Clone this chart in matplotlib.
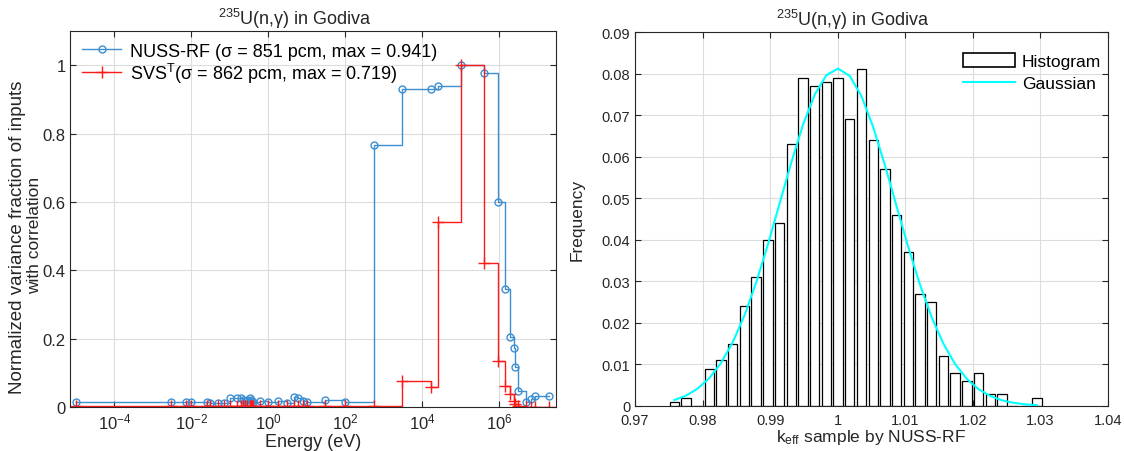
import numpy as np
import matplotlib
matplotlib.use("Agg")
import matplotlib.pyplot as plt
from matplotlib.patches import Patch
from matplotlib.lines import Line2D

plt.rcParams['font.family'] = ['Liberation Sans', 'DejaVu Sans']
plt.rcParams['mathtext.fontset'] = 'custom'
plt.rcParams['mathtext.rm'] = 'Liberation Sans'
plt.rcParams['mathtext.it'] = 'Liberation Sans:italic'
plt.rcParams['mathtext.default'] = 'rm'

AX_COLOR = '#262626'
GRID_COLOR = '#dcdcdc'

# 44-group energy structure: lower bound of each group (eV), last value is the top of group 1
energy_bounds = [1e-5, 3e-3, 7.5e-3, 1e-2, 2.53e-2, 3e-2, 5e-2, 7e-2, 0.1, 0.15,
                 0.2, 0.225, 0.25, 0.275, 0.325, 0.35, 0.375, 0.4, 0.625, 1.0,
                 1.77, 3.0, 4.75, 6.0, 8.1, 10.0, 30.0, 100.0, 550.0, 3e3,
                 1.7e4, 2.5e4, 1e5, 4e5, 9e5, 1.4e6, 1.85e6, 2.354e6, 2.479e6, 3e6,
                 4.8e6, 6.434e6, 8.187e6, 2e7]

# normalized variance fraction per group
nuss_rf = [0.016, 0.016, 0.016, 0.015, 0.016, 0.013, 0.013, 0.013, 0.026, 0.027,
           0.026, 0.020, 0.018, 0.020, 0.026, 0.020, 0.017, 0.016, 0.018, 0.016,
           0.018, 0.011, 0.030, 0.027, 0.018, 0.016, 0.020, 0.014, 0.766, 0.929,
           0.929, 0.938, 1.000, 0.977, 0.600, 0.345, 0.205, 0.172, 0.116, 0.048,
           0.014, 0.022, 0.032, 0.032]

svs_t = [0.002, 0.002, 0.002, 0.002, 0.002, 0.002, 0.002, 0.002, 0.002, 0.002,
         0.002, 0.002, 0.002, 0.002, 0.002, 0.002, 0.002, 0.002, 0.002, 0.002,
         0.002, 0.002, 0.002, 0.002, 0.002, 0.002, 0.002, 0.002, 0.002, 0.076,
         0.058, 0.541, 1.000, 0.421, 0.136, 0.060, 0.037, 0.018, 0.008, 0.003,
         0.001, 0.001, 0.001, 0.001]

energy_ticks = [1e-4, 1e-2, 1e0, 1e2, 1e4, 1e6]
energy_ticklabels = [r'$10^{-4}$', r'$10^{-2}$', r'$10^{0}$', r'$10^{2}$',
                     r'$10^{4}$', r'$10^{6}$']
var_ticks = [0, 0.2, 0.4, 0.6, 0.8, 1.0]

# k-eff histogram (relative frequency per bin)
hist_freq = [0.001, 0.002, 0.000, 0.009, 0.011, 0.015, 0.024, 0.031, 0.040, 0.044,
             0.063, 0.079, 0.077, 0.078, 0.079, 0.069, 0.081, 0.064, 0.057, 0.046,
             0.037, 0.027, 0.025, 0.012, 0.008, 0.006, 0.008, 0.003, 0.003, 0.000,
             0.000, 0.002]
k_min, k_max = 0.974944, 1.030366
k_mean, k_sigma = 1.0, 0.00851
k_ticks = [0.97, 0.98, 0.99, 1.00, 1.01, 1.02, 1.03, 1.04]
freq_ticks = [0, 0.01, 0.02, 0.03, 0.04, 0.05, 0.06, 0.07, 0.08, 0.09]

title = r'$^{235}$U(n,γ) in Godiva'


def style_axes(ax, labelsize):
    for sp in ax.spines.values():
        sp.set_color(AX_COLOR)
        sp.set_linewidth(0.8)
    ax.tick_params(direction='in', which='both', top=True, right=True,
                   colors=AX_COLOR, labelcolor=AX_COLOR, labelsize=labelsize,
                   length=4, width=0.8)
    ax.grid(True, color=GRID_COLOR, linewidth=0.8)
    ax.set_axisbelow(True)


fig = plt.figure(figsize=(11.24, 4.52), dpi=100)

# ---- left: variance fraction vs energy ----
ax1 = fig.add_axes([70 / 1124, 44 / 452, 486 / 1124, 376 / 452])
style_axes(ax1, 12)
ax1.step(energy_bounds, nuss_rf, where='post', color='#3d8fd1', lw=1.0,
         marker='o', ms=5, mfc='none', mec='#3d8fd1', mew=1.0,
         label='NUSS-RF (σ = 851 pcm, max = 0.941)')
ax1.step(energy_bounds, svs_t, where='post', color='#ff1a1a', lw=1.0,
         marker='+', ms=8, mew=1.0,
         label=r'SVS$^{\mathrm{T}}$(σ = 862 pcm, max = 0.719)')
ax1.set_xscale('log')
ax1.set_xlim(10 ** -5.15, 10 ** 7.47)
ax1.set_ylim(0, 1.1)
ax1.set_xticks(energy_ticks)
ax1.set_xticklabels(energy_ticklabels)
ax1.xaxis.set_minor_locator(matplotlib.ticker.NullLocator())
ax1.set_yticks(var_ticks)
ax1.set_yticklabels([f'{v:g}' for v in var_ticks])
ax1.tick_params(axis='y', pad=3)
ax1.set_xlabel('Energy (eV)', fontsize=13, color=AX_COLOR, labelpad=1)
ax1.set_title(title, fontsize=13, color=AX_COLOR, pad=5, x=0.463)
fig.text(18 / 1124, 1 - 237 / 452, 'Normalized variance fraction of inputs',
         rotation=90, ha='center', va='center', fontsize=13.5, color=AX_COLOR)
fig.text(35 / 1124, 1 - 235 / 452, 'with correlation',
         rotation=90, ha='center', va='center', fontsize=12.5, color=AX_COLOR)
ax1.legend(loc='upper left', frameon=False, fontsize=13,
           handlelength=2.2, borderaxespad=0.25, labelspacing=0.05,
           handletextpad=0.5)

# ---- right: k-eff histogram ----
ax2 = fig.add_axes([635 / 1124, 45 / 452, 473 / 1124, 374 / 452])
style_axes(ax2, 10.5)
n_bins = len(hist_freq)
bin_width = (k_max - k_min) / n_bins
centers = k_min + (np.arange(n_bins) + 0.5) * bin_width
ax2.bar(centers, hist_freq, width=0.8 * bin_width, color='white',
        edgecolor='black', linewidth=0.9, zorder=2)
gauss = bin_width * np.exp(-0.5 * ((centers - k_mean) / k_sigma) ** 2) / (k_sigma * np.sqrt(2 * np.pi))
ax2.plot(centers, gauss, color='cyan', lw=1.5, zorder=3)
ax2.set_xlim(0.97, 1.04)
ax2.set_ylim(0, 0.09)
ax2.set_xticks(k_ticks)
ax2.set_xticklabels([f'{v:g}' for v in k_ticks])
ax2.set_yticks(freq_ticks)
ax2.set_yticklabels([f'{v:g}' for v in freq_ticks])
ax2.tick_params(axis='x', pad=5)
ax2.set_xlabel(r'k$_{\mathrm{eff}}$ sample by NUSS-RF', fontsize=12.5,
               color=AX_COLOR, labelpad=0)
ax2.set_ylabel('Frequency', fontsize=12.5, color=AX_COLOR, labelpad=12)
ax2.set_title(title, fontsize=13, color=AX_COLOR, pad=5, x=0.461)
handles = [Patch(facecolor='white', edgecolor='black', linewidth=1.2),
           Line2D([], [], color='cyan', lw=1.5)]
ax2.legend(handles, ['Histogram', 'Gaussian'], loc='upper right', frameon=False,
           fontsize=12.5, handlelength=3.0, handleheight=0.9,
           bbox_to_anchor=(1.0, 0.963), borderaxespad=0.0,
           labelspacing=0.35, handletextpad=0.4)

fig.savefig('out.png', dpi=100, facecolor='white')
